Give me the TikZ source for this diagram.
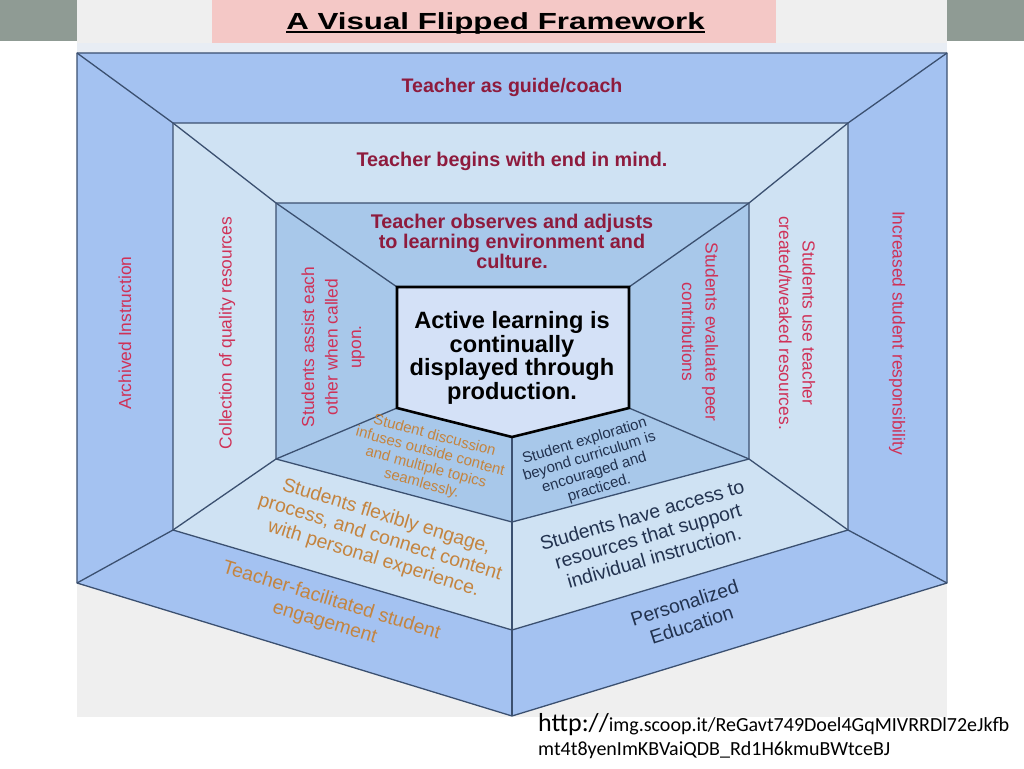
\documentclass[tikz,border=0pt]{standalone}
\usepackage{fontspec}
\usepackage{graphicx}
\setmainfont{Liberation Sans}
\newfontfamily\calfont{Carlito}
\definecolor{bandgray}{HTML}{8F9B94}
\definecolor{imggray}{HTML}{EFEFEF}
\definecolor{stripc}{HTML}{E8EDF4}
\definecolor{pinkc}{HTML}{F4C8C6}
\definecolor{lone}{HTML}{A4C2F1}
\definecolor{ltwo}{HTML}{CFE2F3}
\definecolor{lthree}{HTML}{A8C8EA}
\definecolor{lfour}{HTML}{D4E1F7}
\definecolor{linec}{HTML}{3B5070}
\definecolor{darkred}{HTML}{8E1B3D}
\definecolor{crimson}{HTML}{CF3157}
\definecolor{orangec}{HTML}{C4843F}
\definecolor{navyc}{HTML}{22324F}
\tikzset{
  edge/.style={draw=linec, line width=1.3pt, line join=round},
  pent/.style={draw=black, line width=2.6pt, line join=miter},
  txt/.style={align=center, inner sep=0pt},
  hdr/.style={txt, text=darkred, font=\fontsize{19.6}{20}\selectfont\bfseries},
  side/.style={txt, text=crimson, font=\fontsize{17.4}{23.5}\selectfont},
  orng/.style={txt, text=orangec, font=\fontsize{19.4}{22}\selectfont},
  navy/.style={txt, text=navyc, font=\fontsize{19.4}{22}\selectfont},
  small/.style={font=\fontsize{15}{16.5}\selectfont},
}
\begin{document}
\begin{tikzpicture}[x=1pt,y=-1pt]
\useasboundingbox (0,0) rectangle (1024,768);
\fill[white] (0,0) rectangle (1024,768);
\fill[bandgray] (0,0) rectangle (77,41);
\fill[bandgray] (947,0) rectangle (1024,41);
\fill[imggray] (77,0) rectangle (947,717);
\fill[stripc] (77,43) rectangle (947,53);
\fill[pinkc] (212,0) rectangle (776,43);
\node[txt, anchor=base, font=\fontsize{23.3}{26}\selectfont\bfseries] (title) at (495.5,29.3) {\scalebox{1.343}[1]{A Visual Flipped Framework}};
\draw[line width=2.4pt] ([yshift=-3pt]title.base west) -- ([yshift=-3pt]title.base east);
% geometry
\coordinate (O1) at (77,53);  \coordinate (O2) at (947,53);  \coordinate (O3) at (947,583);
\coordinate (O4) at (512,716); \coordinate (O5) at (77,583);
\coordinate (A1) at (173,123); \coordinate (A2) at (848,123); \coordinate (A3) at (848,530);
\coordinate (A4) at (512,630); \coordinate (A5) at (173,530);
\coordinate (B1) at (276,203); \coordinate (B2) at (749,203); \coordinate (B3) at (749,459);
\coordinate (B4) at (512,522); \coordinate (B5) at (276,459);
\coordinate (C1) at (397,287); \coordinate (C2) at (629,287); \coordinate (C3) at (629,408);
\coordinate (C4) at (512,437); \coordinate (C5) at (397,408);
\fill[lone] (O1)--(O2)--(O3)--(O4)--(O5)--cycle;
\fill[ltwo] (A1)--(A2)--(A3)--(A4)--(A5)--cycle;
\fill[lthree] (B1)--(B2)--(B3)--(B4)--(B5)--cycle;
\fill[lfour] (C1)--(C2)--(C3)--(C4)--(C5)--cycle;
\draw[edge] (O1)--(O2)--(O3)--(O4)--(O5)--cycle;
\draw[edge] (A1)--(A2)--(A3)--(A4)--(A5)--cycle;
\draw[edge] (B1)--(B2)--(B3)--(B4)--(B5)--cycle;
\draw[edge] (O1)--(A1)--(B1)--(C1);
\draw[edge] (O2)--(A2)--(B2)--(C2);
\draw[edge] (O3)--(A3)--(B3)--(C3);
\draw[edge] (O5)--(A5)--(B5)--(C5);
\draw[edge] (O4)--(A4)--(B4)--(C4);
\draw[pent] (C1)--(C2)--(C3)--(C4)--(C5)--cycle;
% texts
\node[hdr] (t1) at (512,87) {Teacher as guide/coach};
\node[hdr, font=\fontsize{19.8}{20}\selectfont\bfseries] (t2) at (512,161) {Teacher begins with end in mind.};
\node[hdr, font=\fontsize{19.8}{20}\selectfont\bfseries] (t3) at (512,241) {Teacher observes and adjusts\\to learning environment and\\culture.};
\node[txt, font=\fontsize{23.6}{23.5}\selectfont\bfseries] (core) at (512,358) {Active learning is\\continually\\displayed through\\production.};
\node[side, rotate=90] (l1) at (125,333) {Archived Instruction};
\node[side, rotate=90] (l2) at (227,333) {Collection of quality resources};
\node[side, rotate=90] (l3) at (333,347) {Students assist each\\other when called\\upon.};
\node[side, rotate=-90] (r3) at (700,332) {Students evaluate peer\\contributions};
\node[side, rotate=-90] (r2) at (797,323) {Students use teacher\\created/tweaked resources.};
\node[side, rotate=-90] (r1) at (897,333) {Increased student responsibility};
\node[orng, small, rotate=-15] (bl3) at (428,460) {Student discussion\\infuses outside content\\and multiple topics\\seamlessly.};
\node[navy, small, rotate=17] (br3) at (592,465) {Student exploration\\beyond curriculum is\\encouraged and\\practiced.};
\node[orng, rotate=-17] (bl2) at (380,538) {Students flexibly engage,\\process, and connect content\\with personal experience.};
\node[navy, rotate=16] (br2) at (648,536) {Students have access to\\resources that support\\individual instruction.};
\node[orng, rotate=-17, font=\fontsize{19.4}{23}\selectfont] (bl1) at (328,612) {Teacher-facilitated student\\engagement};
\node[navy, rotate=18, font=\fontsize{19.4}{23}\selectfont] (br1) at (688,614) {Personalized\\Education};
% source
\node[anchor=base west, inner sep=0pt, font=\calfont] (src1) at (538,731) {{\fontsize{26}{28}\selectfont http://}{\fontsize{20}{22}\selectfont img.scoop.it/ReGavt749Doel4GqMIVRRDl72eJkfb}};
\node[anchor=base west, inner sep=0pt, font=\calfont\fontsize{20}{22}\selectfont] (src2) at (538,755) {mt4t8yenImKBVaiQDB\_Rd1H6kmuBWtceBJ};
\end{tikzpicture}
\end{document}
